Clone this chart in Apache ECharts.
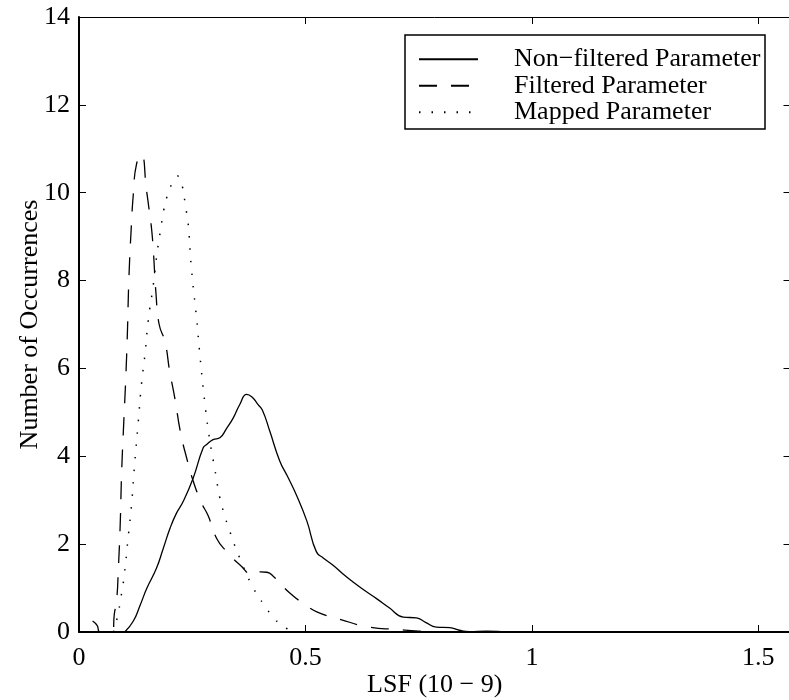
<!DOCTYPE html>
<html>
<head>
<meta charset="utf-8">
<script src="https://cdn.jsdelivr.net/npm/echarts@6/dist/echarts.min.js"></script>
<style>
html,body{margin:0;padding:0;background:#fff;}
#chart{width:789px;height:700px;}
</style>
</head>
<body>
<div id="chart"></div>
<script>
// ---- data ----
var seriesNames = ['Non\u2212filtered Parameter', 'Filtered Parameter', 'Mapped Parameter'];

var nonFilteredX = [0.101, 0.120, 0.135, 0.150, 0.171, 0.186, 0.201, 0.215, 0.230, 0.252, 0.274, 0.282, 0.296, 0.311, 0.325, 0.341, 0.355, 0.370, 0.382, 0.395, 0.405, 0.421, 0.443, 0.460, 0.480, 0.503, 0.524, 0.540, 0.561, 0.583, 0.605, 0.630, 0.657, 0.685, 0.716, 0.745, 0.765, 0.789, 0.819, 0.840, 0.862, 0.900, 0.940, 0.980];
var nonFilteredY = [0.00, 0.25, 0.61, 1.00, 1.45, 1.90, 2.36, 2.70, 2.97, 3.50, 4.19, 4.27, 4.38, 4.42, 4.62, 4.88, 5.18, 5.41, 5.35, 5.18, 5.05, 4.58, 3.90, 3.55, 3.12, 2.53, 1.83, 1.68, 1.52, 1.32, 1.14, 0.95, 0.76, 0.55, 0.34, 0.32, 0.22, 0.11, 0.10, 0.04, 0.01, 0.02, 0.01, 0.00];

var filteredX = [0.030, 0.040, 0.046, 0.060, 0.074, 0.078, 0.083, 0.087, 0.091, 0.094, 0.098, 0.103, 0.107, 0.110, 0.115, 0.120, 0.127, 0.138, 0.149, 0.155, 0.160, 0.164, 0.170, 0.177, 0.190, 0.200, 0.212, 0.224, 0.238, 0.252, 0.270, 0.285, 0.304, 0.326, 0.355, 0.385, 0.400, 0.415, 0.430, 0.466, 0.500, 0.525, 0.576, 0.642, 0.700, 0.750, 0.800];
var filteredY = [0.25, 0.15, 0.00, 0.00, 0.00, 0.41, 0.71, 1.46, 2.46, 3.60, 4.58, 5.72, 6.86, 8.00, 9.13, 9.97, 10.65, 10.86, 10.06, 9.60, 9.20, 8.70, 7.70, 7.00, 6.60, 5.95, 5.30, 4.55, 3.95, 3.44, 2.95, 2.65, 2.13, 1.83, 1.53, 1.30, 1.37, 1.36, 1.26, 0.88, 0.62, 0.46, 0.29, 0.11, 0.06, 0.02, 0.00];

var mappedX = [0.076, 0.085, 0.092, 0.100, 0.108, 0.116, 0.123, 0.131, 0.138, 0.146, 0.153, 0.164, 0.172, 0.180, 0.187, 0.194, 0.205, 0.218, 0.228, 0.235, 0.241, 0.248, 0.260, 0.267, 0.278, 0.289, 0.300, 0.311, 0.319, 0.333, 0.355, 0.385, 0.410, 0.432, 0.455, 0.480];
var mappedY = [0.00, 0.35, 0.75, 1.30, 2.10, 2.90, 3.85, 4.80, 5.65, 6.35, 7.10, 7.90, 8.60, 9.15, 9.60, 9.90, 10.20, 10.38, 10.15, 9.70, 9.30, 8.30, 7.10, 6.30, 5.20, 4.35, 3.70, 3.05, 2.74, 2.29, 1.68, 1.00, 0.60, 0.30, 0.10, 0.00];

var xTickValues = [0, 0.5, 1, 1.5];
var yTickValues = [0, 2, 4, 6, 8, 10, 12, 14];
var xAxisName = 'LSF (10 \u2212 9)';
var yAxisName = 'Number of Occurrences';

function pairs(xs, ys) { return xs.map(function (x, i) { return [x, ys[i]]; }); }

var FONT = '"Liberation Serif", "Times New Roman", serif';
var FS = 26;
var X_MAX = 1.571;

var chart = echarts.init(document.getElementById('chart'), null, {renderer: 'canvas'});

var tickCommon = {show: true, inside: true, length: 7, lineStyle: {color: '#000', width: 1}};

var option = {
  backgroundColor: '#fff',
  animation: false,
  grid: {left: 79, right: -1.5, top: 17, bottom: 68, containLabel: false, outerBoundsMode: 'none'},
  xAxis: [
    {
      type: 'value', min: 0, max: X_MAX, interval: 0.5, position: 'bottom',
      axisLine: {show: true, onZero: false, lineStyle: {color: '#000', width: 2}},
      axisTick: tickCommon,
      splitLine: {show: false},
      axisLabel: {
        show: true, showMaxLabel: false, margin: 13, color: '#000', fontFamily: FONT, fontSize: FS,
        formatter: function (v) { return xTickValues.indexOf(v) >= 0 ? String(v) : ''; }
      },
      name: xAxisName, nameLocation: 'middle', nameGap: 40, nameMoveOverlap: false,
      nameTextStyle: {color: '#000', fontFamily: FONT, fontSize: FS}
    },
    {
      type: 'value', min: 0, max: X_MAX, interval: 0.5, position: 'top',
      axisLine: {show: true, onZero: false, lineStyle: {color: '#000', width: 1}},
      axisTick: tickCommon, splitLine: {show: false}, axisLabel: {show: false}
    }
  ],
  yAxis: [
    {
      type: 'value', min: 0, max: 14, interval: 2, position: 'left',
      axisLine: {show: true, onZero: false, lineStyle: {color: '#000', width: 2}},
      axisTick: tickCommon,
      splitLine: {show: false},
      axisLabel: {
        show: true, margin: 9, color: '#000', fontFamily: FONT, fontSize: FS,
        formatter: function (v) { return yTickValues.indexOf(v) >= 0 ? String(v) : ''; }
      },
      name: yAxisName, nameLocation: 'middle', nameGap: 36, nameRotate: 90, nameMoveOverlap: false,
      nameTextStyle: {color: '#000', fontFamily: FONT, fontSize: FS}
    },
    {
      type: 'value', min: 0, max: 14, interval: 2, position: 'right',
      axisLine: {show: false, onZero: false},
      axisTick: tickCommon, splitLine: {show: false}, axisLabel: {show: false}
    }
  ],
  legend: {
    orient: 'vertical', left: 418, top: 46, padding: 0, itemGap: 0,
    itemWidth: 59, itemHeight: 14,
    data: seriesNames,
    itemStyle: {opacity: 0, color: 'transparent', borderWidth: 0},
    textStyle: {color: '#000', fontFamily: FONT, fontSize: FS, lineHeight: 13.5, padding: [0, 0, 13, 31]}
  },
  graphic: [{
    type: 'rect', z: 100, silent: true,
    shape: {x: 405, y: 35, width: 360, height: 94},
    style: {fill: 'none', stroke: '#000', lineWidth: 1.5}
  }],
  series: [
    {
      name: seriesNames[0], type: 'line', xAxisIndex: 0, yAxisIndex: 0,
      data: pairs(nonFilteredX, nonFilteredY), smooth: 0.5,
      symbol: 'none', showSymbol: false,
      lineStyle: {color: '#000', width: 1.3, type: 'solid'}, itemStyle: {color: '#000'}
    },
    {
      name: seriesNames[1], type: 'line', xAxisIndex: 0, yAxisIndex: 0,
      data: pairs(filteredX, filteredY), smooth: 0.5,
      symbol: 'none', showSymbol: false,
      lineStyle: {color: '#000', width: 1.3, type: [18, 14]}, itemStyle: {color: '#000'}
    },
    {
      name: seriesNames[2], type: 'line', xAxisIndex: 0, yAxisIndex: 0,
      data: pairs(mappedX, mappedY), smooth: 0.5,
      symbol: 'none', showSymbol: false,
      lineStyle: {color: '#000', width: 1.5, type: [1.5, 11]}, itemStyle: {color: '#000'}
    }
  ]
};
chart.setOption(option);
</script>
</body>
</html>
